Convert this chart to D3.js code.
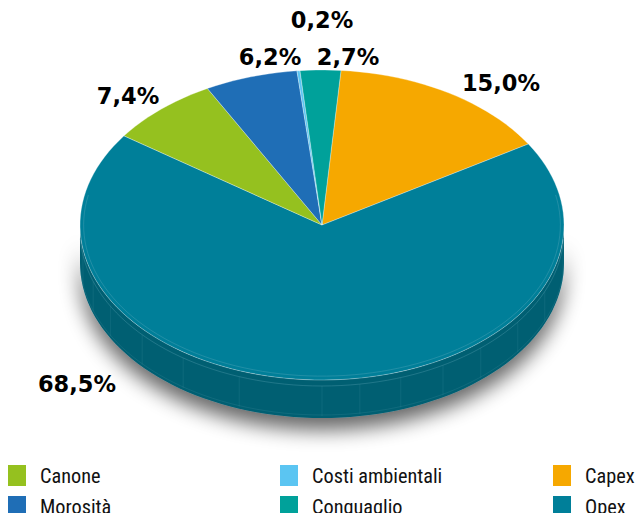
<!DOCTYPE html>
<html><head><meta charset="utf-8">
<script src="https://cdn.jsdelivr.net/npm/d3@7/dist/d3.min.js"></script>
<style>
html,body{margin:0;padding:0;background:#fff;}
svg{display:block;}
</style></head>
<body>
<svg id="chart" width="635" height="513"></svg>
<script>
const categories = ["Capex","Opex","Canone","Morosità","Costi ambientali","Conguaglio"];
const values = [15.0, 68.5, 7.4, 6.2, 0.2, 2.7];
const labels = ["15,0%","68,5%","7,4%","6,2%","0,2%","2,7%"];
const colors = ["#f6a800","#007f99","#95c11f","#1f6eb6","#5bc5f2","#00a19a"];
const legendOrder = ["Canone","Morosità","Costi ambientali","Conguaglio","Capex","Opex"];

(function(){
const svg = d3.select("#chart");
const cx = 322, cy = 225, rx = 242, ry = 155, depth = 38;
const startDeg = 4.5;

const sx = d3.scaleLinear().domain([-1,1]).range([cx-rx, cx+rx]);
const sy = d3.scaleLinear().domain([-1,1]).range([cy-ry, cy+ry]);
const pt = (t, dy=0) => [sx(Math.sin(t)), sy(-Math.cos(t)) + dy];

const pie = d3.pie().sort(null).value(d => d)
  .startAngle(startDeg*Math.PI/180).endAngle(startDeg*Math.PI/180 + 2*Math.PI);
const arcs = pie(values);

const defs = svg.append("defs");
const f = defs.append("filter").attr("id","sh").attr("x","-20%").attr("y","-20%").attr("width","140%").attr("height","150%");
f.append("feGaussianBlur").attr("in","SourceAlpha").attr("stdDeviation",10).attr("result","b");
f.append("feOffset").attr("in","b").attr("dx",0).attr("dy",12).attr("result","o");
f.append("feComponentTransfer").attr("in","o").attr("result","c")
  .append("feFuncA").attr("type","linear").attr("slope",0.6);
const m = f.append("feMerge");
m.append("feMergeNode").attr("in","c");
m.append("feMergeNode").attr("in","SourceGraphic");

const line = d3.line();
const N = 160;
function ellArc(a0, a1, dy=0) {
  const n = Math.max(2, Math.ceil(N*(a1-a0)/(2*Math.PI)));
  return d3.range(n+1).map(i => pt(a0 + (a1-a0)*i/n, dy));
}

const g = svg.append("g").attr("filter","url(#sh)");
const sideTop = ellArc(Math.PI/2, 3*Math.PI/2, 0);
const sideBot = ellArc(Math.PI/2, 3*Math.PI/2, depth).reverse();
g.append("path").attr("d", line(sideTop.concat(sideBot)) + "Z").attr("fill","#005e72");

const sideGroup = svg.append("g");
const facetAngles = [95,113,126,139,150,161,171,180,200,215,228,241,251,261];
facetAngles.forEach(a => {
  const t = a*Math.PI/180;
  const p0 = pt(t, 6), p1 = pt(t, depth-2);
  sideGroup.append("line").attr("x1",p0[0]).attr("y1",p0[1]).attr("x2",p1[0]).attr("y2",p1[1])
    .attr("stroke","#3f8c9d").attr("stroke-width",0.5).attr("opacity",0.45);
});
sideGroup.append("path").attr("d", line(ellArc(Math.PI/2+0.05, 3*Math.PI/2-0.05, 6)))
  .attr("fill","none").attr("stroke","#5aa3b3").attr("stroke-width",0.6).attr("opacity",0.6);
sideGroup.append("path").attr("d", line(ellArc(Math.PI/2+0.05, 3*Math.PI/2-0.05, depth-3)))
  .attr("fill","none").attr("stroke","#3f8c9d").attr("stroke-width",0.5).attr("opacity",0.5);

const topG = svg.append("g");
arcs.forEach((a,i) => {
  const pts = [[cx,cy]].concat(ellArc(a.startAngle, a.endAngle, 0));
  topG.append("path").attr("d", line(pts)+"Z").attr("fill", colors[i])
    .attr("stroke", "#ffffff").attr("stroke-width", 0.6).attr("stroke-opacity",0.5);
});
topG.append("path").attr("d", line(ellArc(Math.PI/2-0.2, 3*Math.PI/2+0.2, 0).map(p => [cx+(p[0]-cx)*0.985, cy+(p[1]-cy)*0.975])))
  .attr("fill","none").attr("stroke","#6fb3c2").attr("stroke-width",0.6).attr("opacity",0.5);

const labelPos = [[501,83],[77,384],[128,96],[270,57],[322,20],[348,57]];
svg.append("g").selectAll("text").data(arcs).join("text")
  .attr("x",(d,i)=>labelPos[i][0]).attr("y",(d,i)=>labelPos[i][1])
  .attr("text-anchor","middle").attr("dominant-baseline","central")
  .attr("font-family","'DejaVu Sans', sans-serif").attr("font-weight","bold")
  .attr("font-size",22.5).attr("fill","#000")
  .text((d,i)=>labels[i]);

const colX = [8, 280, 553];
const rowY = [465, 496];
const lg = svg.append("g");
legendOrder.forEach((name, k) => {
  const col = Math.floor(k/2), row = k%2;
  const idx = categories.indexOf(name);
  lg.append("rect").attr("x",colX[col]).attr("y",rowY[row]).attr("width",18).attr("height",21).attr("fill",colors[idx]);
  lg.append("text").attr("x",colX[col]+32).attr("y",rowY[row]+18)
    .attr("font-family","'Liberation Sans Narrow','Roboto Condensed','DejaVu Sans Condensed',sans-serif")
    .attr("font-size",20.3).attr("fill","#111").text(name);
});
})();
</script>
</body></html>
